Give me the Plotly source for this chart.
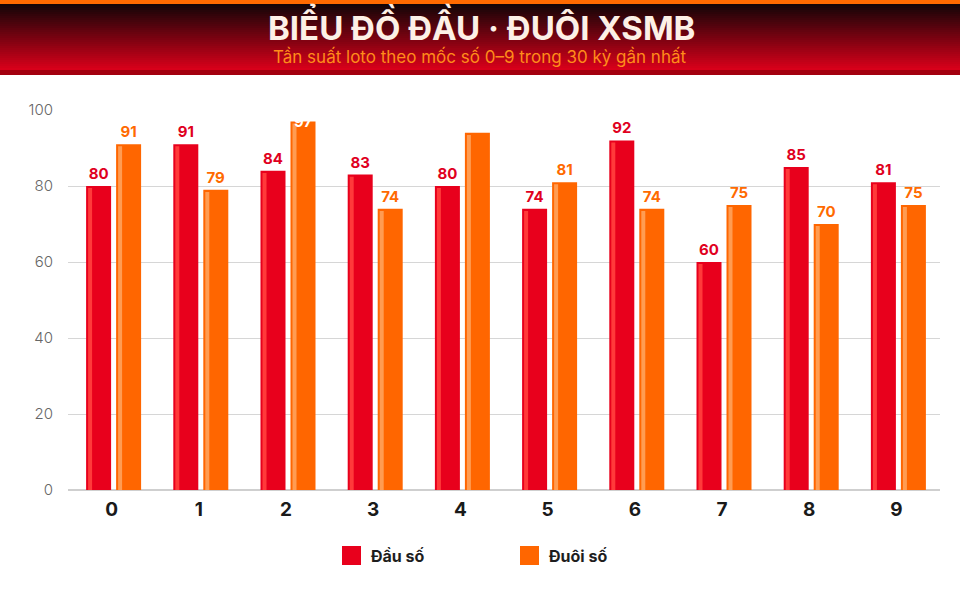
import plotly.graph_objects as go

# Tần suất đầu / đuôi loto, 30 kỳ gần nhất
digits = ["0", "1", "2", "3", "4", "5", "6", "7", "8", "9"]
dau_so = [80, 91, 84, 83, 80, 74, 92, 60, 85, 81]
duoi_so = [91, 79, 97, 74, 94, 81, 74, 75, 70, 75]
y_ticks = [0, 20, 40, 60, 80, 100]

W, H = 960, 600
M_L, M_R, M_T, M_B = 68, 20, 110, 110
RED, RED_HI = "#e8001c", "#ff3a3a"
ORANGE, ORANGE_HI = "#ff6600", "#ff9c52"
STEP = (W - M_L - M_R) / len(digits)


def py(p):
    # pixel row -> paper y
    return (H - M_B - p) / (H - M_T - M_B)


def px(p):
    return (p - M_L) / (W - M_L - M_R)


def hex_mix(c1, c2, t):
    a = [int(c1[i:i + 2], 16) for i in (1, 3, 5)]
    b = [int(c2[i:i + 2], 16) for i in (1, 3, 5)]
    return "#" + "".join(f"{round(x + (y - x) * t):02x}" for x, y in zip(a, b))


bw = 25 / STEP
fig = go.Figure()

# label texts: the 97 bar gets a white label on its top edge, the 94 bar none
duoi_text = [str(v) for v in duoi_so]
duoi_text[2] = ""
duoi_text[4] = ""

fig.add_trace(go.Bar(
    x=digits, y=dau_so, name="Đầu số", marker_color=RED,
    width=bw, offset=-25.5 / STEP,
    text=[str(v) for v in dau_so], textposition="outside",
    textfont=dict(color="#e0001e", size=15, family="Inter", weight="bold"),
    cliponaxis=False,
))
fig.add_trace(go.Bar(
    x=digits, y=duoi_so, name="Đuôi số", marker_color=ORANGE,
    width=bw, offset=4.5 / STEP,
    text=duoi_text, textposition="outside",
    textfont=dict(color="#ff6a00", size=15, family="Inter", weight="bold"),
    cliponaxis=False,
))
# highlight stripes on the left side of each bar
fig.add_trace(go.Bar(
    x=digits, y=[v - 0.55 for v in dau_so], marker_color=RED_HI,
    width=4 / STEP, offset=-23.5 / STEP, hoverinfo="skip", showlegend=False,
))
fig.add_trace(go.Bar(
    x=digits, y=[v - 0.55 for v in duoi_so], marker_color=ORANGE_HI,
    width=4 / STEP, offset=6.5 / STEP, hoverinfo="skip", showlegend=False,
))
fig.update_traces(marker_line_width=0)

shapes = []
# header: orange strip, dark-to-red gradient, darker red band
shapes.append(dict(type="rect", xref="paper", yref="paper", x0=px(0), x1=px(W),
                   y0=py(4), y1=py(0), fillcolor="#ff6a00", line_width=0, layer="above"))
top, bot = 4, 70
n = 33
for i in range(n):
    a = top + (bot - top) * i / n
    b = top + (bot - top) * (i + 1) / n
    shapes.append(dict(type="rect", xref="paper", yref="paper", x0=px(0), x1=px(W),
                       y0=py(b + 0.3), y1=py(a), line_width=0,
                       fillcolor=hex_mix("#140507", "#d8001a", i / (n - 1))))
shapes.append(dict(type="rect", xref="paper", yref="paper", x0=px(0), x1=px(W),
                   y0=py(75), y1=py(70), fillcolor="#a3000f", line_width=0))

# legend squares
shapes.append(dict(type="rect", xref="paper", yref="paper", x0=px(342), x1=px(361),
                   y0=py(565), y1=py(546), fillcolor=RED, line_width=0))
shapes.append(dict(type="rect", xref="paper", yref="paper", x0=px(520), x1=px(539),
                   y0=py(565), y1=py(546), fillcolor=ORANGE, line_width=0))

annotations = [
    dict(text="BIỂU ĐỒ ĐẦU · ĐUÔI XSMB", xref="paper", yref="paper", x=px(481), y=py(25),
         showarrow=False, font=dict(family="Inter", size=33,
                                     color="#fdf0e6", weight="bold"), yanchor="middle"),
    dict(text="Tần suất loto theo mốc số 0–9 trong 30 kỳ gần nhất", xref="paper", yref="paper",
         x=px(480), y=py(56), showarrow=False, yanchor="middle",
         font=dict(family="Inter", size=17, color="#ff8c1a")),
    dict(text="Đầu số", xref="paper", yref="paper", x=px(369), y=py(556), xanchor="left",
         yanchor="middle", showarrow=False,
         font=dict(family="Inter", size=16, color="#1e1e1e", weight="bold")),
    dict(text="Đuôi số", xref="paper", yref="paper", x=px(547), y=py(556), xanchor="left",
         yanchor="middle", showarrow=False,
         font=dict(family="Inter", size=16, color="#1e1e1e", weight="bold")),
    # 97 label sits on the bar top, white, upper half lost against the background
    dict(text=str(duoi_so[2]), x=digits[2], y=duoi_so[2], xshift=17, yanchor="middle",
         showarrow=False, font=dict(family="Inter", size=15, color="#ffffff", weight="bold")),
]

fig.update_layout(
    width=W, height=H,
    margin=dict(l=M_L, r=M_R, t=M_T, b=M_B),
    paper_bgcolor="white", plot_bgcolor="white",
    barmode="overlay", showlegend=False,
    shapes=shapes, annotations=annotations,
    xaxis=dict(type="category", tickfont=dict(family="Inter", size=19, color="#1a1a1a", weight="bold"),
               showgrid=False, showline=False, ticks="", ticklabelstandoff=6),
    yaxis=dict(range=[0, 100], tickvals=y_ticks, showgrid=True, gridcolor="#d6d6d6",
               zeroline=True, zerolinecolor="#cfcfcf", zerolinewidth=1.5,
               tickfont=dict(family="Inter", size=15, color="#666666", weight=300),
               ticks="", ticklabelstandoff=14),
)

fig.write_html("out.html", config={"displayModeBar": False},
               post_script="document.body.style.margin='0';")
